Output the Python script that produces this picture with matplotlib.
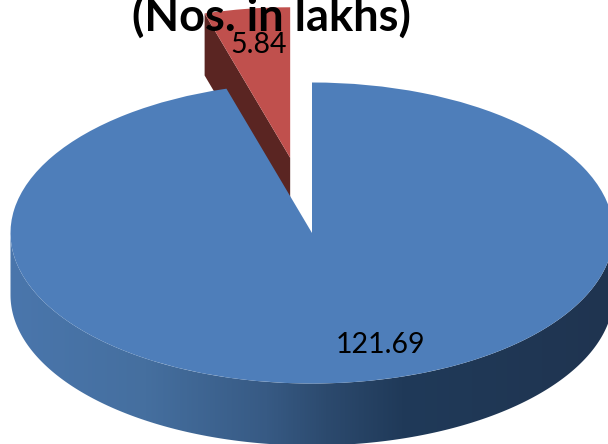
import numpy as np
import matplotlib
matplotlib.use("Agg")
import matplotlib.pyplot as plt
from matplotlib.colors import LinearSegmentedColormap
from matplotlib.patches import Polygon

values = [121.69, 5.84]
value_labels = ["121.69", "5.84"]
title = "(Nos. in lakhs)"
explode = [0, 0.505]
colors = ["#4E7EBA", "#C0504D"]

W, H = 608, 444
CX, CY = 312, 233
RX, RY = 301.5, 150.5
DEPTH = 62 / RY


def px(x, y):
    # pixel position to squashed pie coordinates
    return (x - CX) / RX, (CY - y) / RY


def main():
    fig = plt.figure(figsize=(W / 100, H / 100), dpi=100)
    ax = fig.add_axes([0, 0, 1, 1])
    wedges, _ = ax.pie(values, explode=explode, colors=colors, startangle=90,
                       counterclock=False, radius=1)
    for w in wedges:
        w.set_zorder(5)
        w.set_linewidth(0)

    # side wall of the big slice, shaded left to right
    stops = [(0.0, "#4A76AC"), (0.225, "#456F9F"), (0.425, "#375A84"),
             (0.525, "#2C4A6E"), (0.65, "#203A59"), (1.0, "#1F3450")]
    cmap = LinearSegmentedColormap.from_list("side", stops)
    t = np.radians(np.linspace(180, 360, 241))
    xs = np.concatenate([np.cos(t), np.cos(t[::-1])])
    ys = np.concatenate([np.sin(t), np.sin(t[::-1]) - DEPTH])
    im = ax.imshow(np.linspace(0, 1, 512).reshape(1, -1), cmap=cmap, aspect="auto",
                   extent=(-1, 1, -1 - DEPTH, 0), zorder=2, interpolation="bilinear")
    im.set_clip_path(Polygon(np.column_stack([xs, ys]), transform=ax.transData))

    # side wall of the pulled out slice, hidden in part by the big slice
    share = 360 * values[1] / sum(values)
    mid = np.radians(90 + share / 2)
    ox, oy = explode[1] * np.cos(mid), explode[1] * np.sin(mid)
    edge = np.radians(90 + share)
    ex, ey = ox + np.cos(edge), oy + np.sin(edge)
    ax.fill([ox, ex, ex, ox], [oy, ey, ey - DEPTH, oy - DEPTH],
            color="#5A2522", lw=0, zorder=3)

    ax.set_aspect("auto")
    ax.set_xlim(px(0, 0)[0], px(W, 0)[0])
    ax.set_ylim(px(0, H)[1], px(0, 0)[1])
    ax.axis("off")

    lx, ly = px(380, 345)
    ax.text(lx, ly, value_labels[0], fontsize=20.5, family="Lato", ha="center",
            va="center", color="black", zorder=7)
    lx, ly = px(259, 45)
    ax.text(lx, ly, value_labels[1], fontsize=20.5, family="Lato", ha="center",
            va="center", color="black", zorder=7)
    lx, ly = px(271, 31)
    ax.text(lx, ly, title, fontsize=32.5, family="Lato", weight="bold", ha="center",
            va="baseline", color="black", zorder=8)

    fig.savefig("out.png", dpi=100)


if __name__ == "__main__":
    main()
